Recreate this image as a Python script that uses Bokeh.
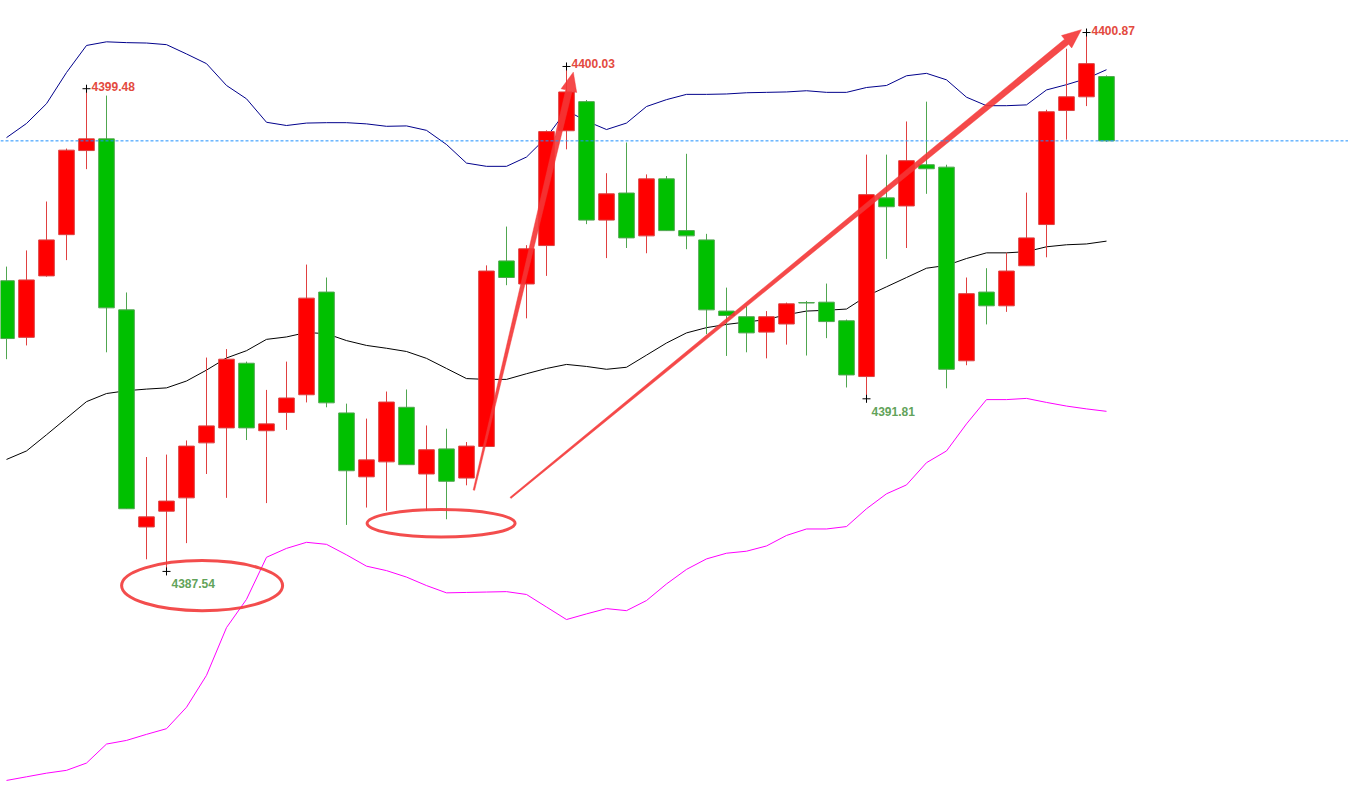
import math

from bokeh.core.properties import value
from bokeh.embed import file_html
from bokeh.models import Range1d, Span
from bokeh.plotting import figure
from bokeh.resources import INLINE

# candles, one per bar (red = close above open, green = close below open)
opens = [4394.73, 4393.33, 4394.85, 4395.87, 4397.95, 4398.24, 4394.01, 4388.64,
         4389.03, 4389.36, 4390.72, 4391.09, 4392.69, 4391.02, 4391.47, 4391.91,
         4394.45, 4391.46, 4389.88, 4390.25, 4391.60, 4389.95, 4390.57, 4389.85,
         4390.63, 4395.22, 4394.65, 4395.60, 4398.44, 4399.16, 4396.23, 4396.90,
         4395.84, 4397.25, 4395.97, 4395.74, 4393.98, 4393.84, 4393.46, 4393.66,
         4394.19, 4394.20, 4393.74, 4392.36, 4396.78, 4396.58, 4397.60, 4397.54,
         4392.75, 4394.45, 4394.11, 4395.10, 4396.12, 4398.94, 4399.28, 4399.78]
highs = [4395.08, 4395.48, 4396.69, 4398.00, 4399.48, 4399.31, 4394.44, 4390.37,
         4390.43, 4390.78, 4392.83, 4393.04, 4392.73, 4392.03, 4392.73, 4395.13,
         4394.81, 4391.69, 4391.32, 4391.99, 4392.04, 4391.15, 4391.07, 4390.74,
         4395.11, 4396.07, 4395.61, 4398.45, 4400.03, 4399.20, 4397.39, 4398.15,
         4397.36, 4397.32, 4397.87, 4395.89, 4394.56, 4394.10, 4393.98, 4394.19,
         4394.23, 4394.66, 4393.77, 4397.85, 4397.85, 4398.67, 4399.16, 4397.60,
         4394.81, 4395.04, 4395.42, 4396.91, 4398.96, 4400.47, 4400.87, 4399.81]
lows = [4392.79, 4393.13, 4394.83, 4395.24, 4397.49, 4392.96, 4389.09, 4387.84,
        4387.54, 4388.24, 4389.95, 4389.36, 4390.79, 4389.23, 4391.04, 4391.72,
        4391.60, 4388.69, 4389.12, 4389.04, 4390.18, 4389.04, 4388.83, 4389.67,
        4390.63, 4394.62, 4393.80, 4394.85, 4397.98, 4396.13, 4395.29, 4395.54,
        4395.41, 4395.97, 4395.51, 4393.41, 4392.87, 4392.96, 4392.81, 4393.15,
        4392.88, 4393.31, 4392.09, 4391.81, 4395.27, 4395.54, 4396.88, 4392.07,
        4392.64, 4393.65, 4393.96, 4395.10, 4395.31, 4398.22, 4399.05, 4398.17]
closes = [4393.30, 4394.75, 4395.74, 4397.96, 4398.24, 4394.06, 4389.09, 4388.89,
          4389.28, 4390.64, 4391.14, 4392.79, 4391.09, 4391.19, 4391.83, 4394.30,
          4391.71, 4390.03, 4390.30, 4391.73, 4390.18, 4390.55, 4389.77, 4390.64,
          4394.97, 4394.81, 4395.52, 4398.42, 4399.40, 4396.23, 4396.88, 4395.79,
          4397.25, 4395.97, 4395.84, 4394.01, 4393.87, 4393.44, 4393.84, 4394.16,
          4394.18, 4393.72, 4392.40, 4396.86, 4396.56, 4397.70, 4397.50, 4392.54,
          4394.41, 4394.11, 4394.97, 4395.79, 4398.91, 4399.28, 4400.10, 4398.19]

# bollinger bands
upper = [4398.27, 4398.62, 4399.11, 4399.88, 4400.55, 4400.64, 4400.62, 4400.61,
         4400.57, 4400.34, 4400.10, 4399.56, 4399.23, 4398.65, 4398.57, 4398.63,
         4398.64, 4398.64, 4398.61, 4398.55, 4398.56, 4398.45, 4398.10, 4397.64,
         4397.56, 4397.56, 4397.79, 4398.28, 4398.94, 4398.68, 4398.47, 4398.63,
         4399.04, 4399.21, 4399.34, 4399.34, 4399.35, 4399.38, 4399.39, 4399.40,
         4399.43, 4399.39, 4399.39, 4399.51, 4399.56, 4399.80, 4399.86, 4399.70,
         4399.27, 4399.06, 4399.06, 4399.08, 4399.45, 4399.58, 4399.73, 4399.95]
middle = [4390.31, 4390.52, 4390.92, 4391.33, 4391.74, 4391.94, 4392.01, 4392.05,
          4392.08, 4392.25, 4392.52, 4392.82, 4393.00, 4393.28, 4393.34, 4393.45,
          4393.42, 4393.25, 4393.13, 4393.06, 4392.98, 4392.81, 4392.56, 4392.31,
          4392.29, 4392.29, 4392.43, 4392.56, 4392.66, 4392.61, 4392.54, 4392.59,
          4392.89, 4393.19, 4393.44, 4393.57, 4393.65, 4393.71, 4393.77, 4393.89,
          4393.98, 4394.00, 4394.03, 4394.35, 4394.58, 4394.81, 4395.04, 4395.11,
          4395.28, 4395.42, 4395.42, 4395.45, 4395.57, 4395.62, 4395.64, 4395.71]
lower = [4382.37, 4382.46, 4382.55, 4382.62, 4382.80, 4383.27, 4383.36, 4383.51,
         4383.65, 4384.18, 4384.97, 4386.15, 4386.85, 4387.89, 4388.11, 4388.26,
         4388.21, 4387.95, 4387.67, 4387.56, 4387.40, 4387.19, 4387.01, 4387.02,
         4387.03, 4387.04, 4386.97, 4386.66, 4386.35, 4386.49, 4386.62, 4386.57,
         4386.82, 4387.23, 4387.59, 4387.85, 4387.99, 4388.04, 4388.17, 4388.43,
         4388.59, 4388.59, 4388.65, 4389.09, 4389.46, 4389.68, 4390.23, 4390.52,
         4391.19, 4391.79, 4391.79, 4391.82, 4391.72, 4391.63, 4391.56, 4391.50]

last_price = 4398.19

# marked extremes
mark_idx = [4, 8, 28, 43, 54]
mark_price = [4399.48, 4387.54, 4400.03, 4391.81, 4400.87]
mark_text = ["4399.48", "4387.54", "4400.03", "4391.81", "4400.87"]
mark_high = [True, False, True, False, True]

# hand drawn notes: arrows (start -> tip) and ellipses
arrow_x0 = [23.37, 25.20]
arrow_y0 = [4389.55, 4389.36]
arrow_x1 = [28.34, 53.74]
arrow_y1 = [4399.89, 4400.94]
ell_x = [9.78, 21.73]
ell_y = [4387.19, 4388.73]
ell_w = [8.05, 7.40]
ell_h = [1.24, 0.68]

W, H = 1348, 797
X0, X1 = -0.3, 67.1
Y0, Y1 = 4381.948, 4401.662

p = figure(width=W, height=H, x_range=Range1d(X0, X1), y_range=Range1d(Y0, Y1),
           output_backend="svg", toolbar_location=None, min_border=0,
           x_axis_location=None, y_axis_location=None, outline_line_color=None,
           background_fill_color="white", border_fill_color="white")
p.grid.visible = False

idx = list(range(len(opens)))
p.line(idx, upper, line_color="#00008b", line_width=1)
p.line(idx, middle, line_color="black", line_width=1)
p.line(idx, lower, line_color="#ff00ff", line_width=1)

p.add_layout(Span(location=last_price, dimension="width", line_color="#1e90ff",
                  line_width=1, line_dash="3 2"))

up = [c > o for o, c in zip(opens, closes)]
wick_col = ["#e04040" if u else "#50a650" for u in up]
fill_col = ["#ff0000" if u else "#00c000" for u in up]
edge_col = ["#dc4040" if u else "#4fa64f" for u in up]
p.segment(idx, lows, idx, highs, line_color=wick_col, line_width=1)
p.vbar(x=idx, width=0.78, top=[max(o, c) for o, c in zip(opens, closes)],
       bottom=[min(o, c) for o, c in zip(opens, closes)],
       fill_color=fill_col, line_color=edge_col, line_width=1)

p.scatter(mark_idx, mark_price, marker="cross", size=8, line_color="black", line_width=1)
hx = [i for i, h in zip(mark_idx, mark_high) if h]
hy = [v for v, h in zip(mark_price, mark_high) if h]
ht = [t for t, h in zip(mark_text, mark_high) if h]
lx = [i for i, h in zip(mark_idx, mark_high) if not h]
ly = [v for v, h in zip(mark_price, mark_high) if not h]
lt = [t for t, h in zip(mark_text, mark_high) if not h]
p.text(hx, hy, text=ht, x_offset=5, y_offset=-2.5, text_align="left",
       text_baseline="alphabetic", text_font=value("Liberation Sans"),
       text_font_size="12px", text_font_style="bold", text_color="#e34a3e")
p.text(lx, ly, text=lt, x_offset=5, y_offset=12.5, text_align="left",
       text_baseline="alphabetic", text_font=value("Liberation Sans"),
       text_font_size="12px", text_font_style="bold", text_color="#62a35a")

# tapered arrows, shaped in screen pixels then mapped back to data
sx = W / (X1 - X0)
sy = H / (Y1 - Y0)


def arrow_shape(xa, ya, xb, yb, w0=1.5, w1=6.5, head_len=19, head_half=8):
    ax, ay, bx, by = xa * sx, ya * sy, xb * sx, yb * sy
    d = math.hypot(bx - ax, by - ay)
    ux, uy = (bx - ax) / d, (by - ay) / d
    nx, ny = -uy, ux
    cx, cy = bx - ux * head_len, by - uy * head_len
    pts = [(ax + nx * w0 / 2, ay + ny * w0 / 2),
           (cx + nx * w1 / 2, cy + ny * w1 / 2),
           (cx + nx * head_half, cy + ny * head_half),
           (bx, by),
           (cx - nx * head_half, cy - ny * head_half),
           (cx - nx * w1 / 2, cy - ny * w1 / 2),
           (ax - nx * w0 / 2, ay - ny * w0 / 2)]
    return [q[0] / sx for q in pts], [q[1] / sy for q in pts]


axs, ays = [], []
for a in range(len(arrow_x0)):
    ax_, ay_ = arrow_shape(arrow_x0[a], arrow_y0[a], arrow_x1[a], arrow_y1[a])
    axs.append(ax_)
    ays.append(ay_)
p.patches(axs, ays, fill_color="#f43535", fill_alpha=0.9, line_color="#f43535",
          line_alpha=0.9, line_width=0.5)

p.ellipse(ell_x, ell_y, width=ell_w, height=ell_h, fill_color=None,
          line_color="#f23a3a", line_alpha=0.9, line_width=3)

open("out.html", "w").write(file_html(p, INLINE))
